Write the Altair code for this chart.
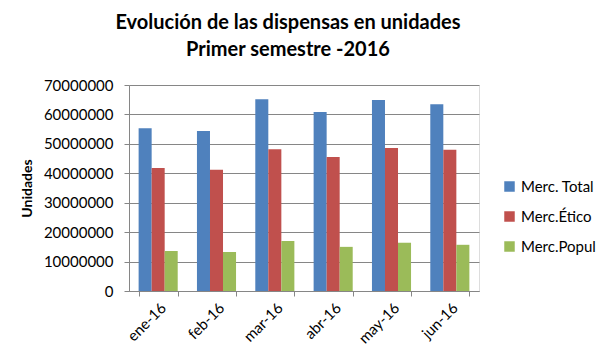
import altair as alt
import pandas as pd

months = ["ene-16", "feb-16", "mar-16", "abr-16", "may-16", "jun-16"]
series = ["Merc. Total", "Merc.Ético", "Merc.Popul"]
total = [55300000, 54400000, 65200000, 60800000, 64900000, 63500000]
etico = [41800000, 41200000, 48200000, 45500000, 48600000, 48000000]
popul = [13600000, 13250000, 17000000, 15000000, 16400000, 15700000]
colors = ["#4F81BD", "#C0504D", "#9BBB59"]

rows = []
for vals, s in zip([total, etico, popul], series):
    for m, v in zip(months, vals):
        rows.append({"mes": m, "serie": s, "valor": v})
df = pd.DataFrame(rows)

font = "Lato"

chart = alt.Chart(df).mark_bar().encode(
    x=alt.X("mes:N", sort=months, title=None,
            scale=alt.Scale(paddingInner=0.33, paddingOuter=0.165),
            axis=alt.Axis(labelAngle=-45, labelFontSize=15, labelFont=font, labelColor="#000",
                          domainColor="#868686", tickColor="#868686", tickBand="extent",
                          tickSize=5, labelPadding=4)),
    xOffset=alt.XOffset("serie:N", sort=series),
    y=alt.Y("valor:Q", title="Unidades",
            scale=alt.Scale(domain=[0, 70000000]),
            axis=alt.Axis(values=list(range(0, 70000001, 10000000)), format="d",
                          labelFontSize=15, labelFont=font, labelColor="#000",
                          titleFontSize=14, titleFont=font, titleFontWeight="bold", titleColor="#000",
                          titlePadding=9, domainColor="#868686", tickColor="#868686", tickSize=5,
                          gridColor="#868686", labelPadding=11)),
    color=alt.Color("serie:N", sort=series, scale=alt.Scale(domain=series, range=colors),
                    legend=alt.Legend(title=None, labelFontSize=15, labelFont=font, labelColor="#000",
                                      symbolType="square", symbolSize=110, symbolStrokeWidth=0,
                                      rowPadding=14, orient="none", legendX=373, legendY=94)),
).properties(
    width=350, height=206,
    padding={"left": 12, "top": 5, "right": 5, "bottom": 5},
    title=alt.TitleParams(["Evolución de las dispensas en unidades", "Primer semestre -2016"],
                          fontSize=20, font=font, fontWeight="bold", color="#000",
                          anchor="middle", lineHeight=27, offset=18, dx=-16),
).configure_view(stroke=None).configure(background="white")

chart.save("out.html", embed_options={"renderer": "svg", "actions": False})
